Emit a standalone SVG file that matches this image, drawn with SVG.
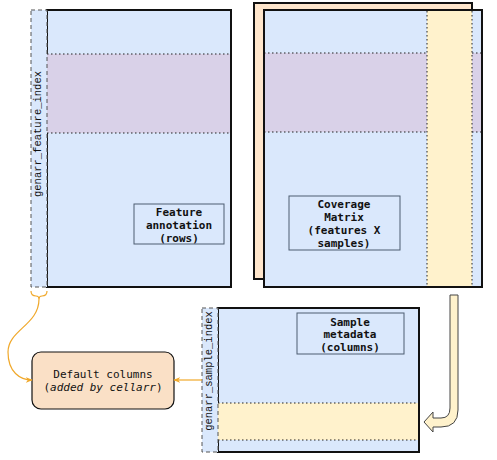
<svg xmlns="http://www.w3.org/2000/svg" width="497" height="460" viewBox="0 0 497 460">
<defs>
<style>
.bg{fill:#dae8fc;stroke:#111;stroke-width:2}
.idx{fill:#dae8fc;stroke:#555;stroke-width:1;stroke-dasharray:4 3}
.band{stroke:#222;stroke-width:1;stroke-dasharray:1.5 2.5}
.pur{fill:#d9d1e8}
.yel{fill:#fff2cc}
.lbl{fill:#dae8fc;stroke:#4d5d70;stroke-width:1}
.t{font-family:"DejaVu Sans Mono","Liberation Mono",monospace;font-size:11px;fill:#111;text-anchor:middle}
.r{font-size:10.5px;font-family:"Liberation Mono","DejaVu Sans Mono",monospace}
.b{font-weight:bold}
.conn{fill:none;stroke:#f0a82a;stroke-width:1.2}
</style>
<marker id="arr" viewBox="0 0 10 10" refX="9" refY="5" markerWidth="7" markerHeight="7" orient="auto" markerUnits="userSpaceOnUse">
<path d="M0,1 L10,5 L0,9 L3,5 Z" fill="#f0a82a"/>
</marker>
</defs>
<rect width="497" height="460" fill="#fff"/>

<g id="feature-annotation">
<rect class="bg" x="47" y="10" width="184" height="277"/>
<rect class="pur" x="47" y="54" width="184" height="79"/>
<line class="band" x1="47" y1="54" x2="231" y2="54"/>
<line class="band" x1="47" y1="133" x2="231" y2="133"/>
<line x1="231" y1="10" x2="231" y2="287" stroke="#111" stroke-width="2"/>
<rect class="idx" x="31" y="10" width="16" height="277"/>
<text class="t r" transform="translate(41,134) rotate(-90)">genarr_feature_index</text>
<rect class="lbl" x="134" y="204" width="90" height="40"/>
<text class="t b" x="179" y="216">Feature</text>
<text class="t b" x="179" y="229">annotation</text>
<text class="t b" x="179" y="242">(rows)</text>
</g>

<g id="coverage-matrix">
<rect x="254" y="3" width="218" height="276" fill="#ffe6cc" stroke="#111" stroke-width="2"/>
<rect class="bg" x="264" y="10" width="218" height="277"/>
<rect class="pur" x="264" y="53" width="218" height="79"/>
<line class="band" x1="264" y1="53" x2="482" y2="53"/>
<line class="band" x1="264" y1="132" x2="482" y2="132"/>
<rect class="yel" x="427" y="11" width="45" height="275"/>
<line class="band" x1="427" y1="11" x2="427" y2="286"/>
<line class="band" x1="472" y1="11" x2="472" y2="286"/>
<rect x="264" y="10" width="218" height="277" fill="none" stroke="#111" stroke-width="2"/>
<rect class="lbl" x="289" y="196" width="111" height="54"/>
<text class="t b" x="344" y="208">Coverage</text>
<text class="t b" x="344" y="221">Matrix</text>
<text class="t b" x="344" y="234">(features X</text>
<text class="t b" x="344" y="247">samples)</text>
</g>

<g id="sample-metadata">
<rect class="bg" x="218" y="308" width="201" height="144"/>
<rect class="yel" x="218" y="403" width="201" height="37"/>
<line class="band" x1="218" y1="403" x2="419" y2="403"/>
<line class="band" x1="218" y1="440" x2="419" y2="440"/>
<line x1="419" y1="308" x2="419" y2="452" stroke="#111" stroke-width="2"/>
<rect class="idx" x="202" y="308" width="16" height="144"/>
<text class="t r" transform="translate(212,371) rotate(-90)">genarr_sample_index</text>
<rect class="lbl" x="297" y="313" width="107" height="41"/>
<text class="t b" x="350" y="326">Sample</text>
<text class="t b" x="350" y="338">metadata</text>
<text class="t b" x="350" y="351">(columns)</text>
</g>

<g id="default-columns">
<rect x="32" y="352" width="142" height="57" rx="9" ry="9" fill="#fae0c6" stroke="#111" stroke-width="1.2"/>
<text class="t" x="103" y="378">Default columns</text>
<text class="t" x="103" y="391">(<tspan font-style="italic">added by cellarr</tspan>)</text>
</g>

<g id="connectors">
<path class="conn" d="M31,291 Q31,296 36,296 Q39,296 39,299 Q39,296 42,296 Q47,296 47,291" stroke-width="1.5"/>
<path class="conn" d="M39,299 C39,325 8,330 8,352 C8,372 20,380 32,380" marker-end="url(#arr)"/>
<path class="conn" d="M202,380 L174,380" marker-end="url(#arr)"/>
<path d="M450,295 L458,295 L458,410 Q458,427 441,427 L433,427 L433,432 L424,422 L433,412 L433,418 L441,418 Q450,418 450,408 Z" fill="#fff2cc" stroke="#444" stroke-width="1"/>
</g>
</svg>
